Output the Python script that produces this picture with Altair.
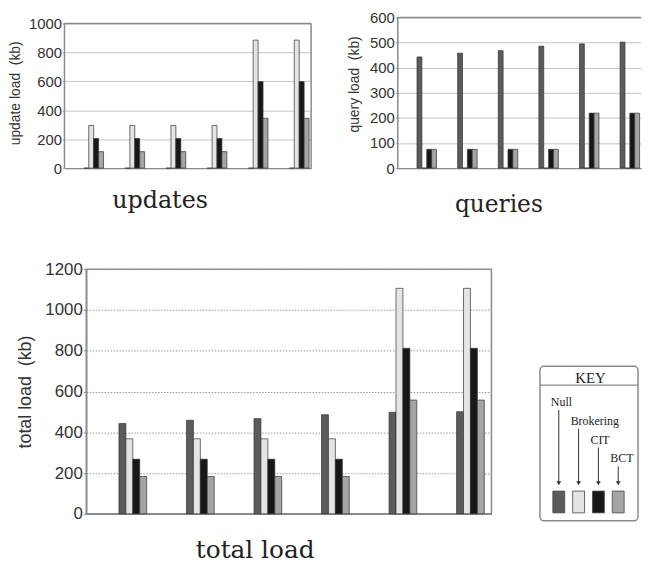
import altair as alt
import pandas as pd

# ---------------- data ----------------
series = ["Null", "Brokering", "CIT", "BCT"]
series_colors = ["#5b5b5b", "#e4e4e4", "#171717", "#a5a5a5"]
configs = ["c1", "c2", "c3", "c4", "c5", "c6"]

update_null = [0, 0, 0, 0, 0, 0]
update_brokering = [295, 295, 295, 295, 885, 885]
update_cit = [205, 205, 205, 205, 598, 598]
update_bct = [114, 114, 114, 114, 345, 345]

query_null = [443, 458, 468, 486, 495, 502]
query_brokering = [0, 0, 0, 0, 0, 0]
query_cit = [75, 75, 75, 75, 219, 219]
query_bct = [75, 75, 75, 75, 219, 219]

total_null = [443, 459, 467, 486, 498, 501]
total_brokering = [368, 368, 368, 368, 1106, 1106]
total_cit = [268, 268, 268, 268, 812, 812]
total_bct = [183, 183, 183, 183, 558, 558]

update_ticks = [0, 200, 400, 600, 800, 1000]
query_ticks = [0, 100, 200, 300, 400, 500, 600]
total_ticks = [0, 200, 400, 600, 800, 1000, 1200]

SANS = "Liberation Sans"
SERIF = "DejaVu Serif"
KEYFONT = "Liberation Serif"
TEXT = "#333333"
GRAY = "#8a8a8a"
NO_STROKE = alt.ViewBackground(stroke="transparent", strokeWidth=0)


def long_df(cols):
    rows = []
    for si, (s, vals) in enumerate(zip(series, cols)):
        for gi, (c, v) in enumerate(zip(configs, vals)):
            rows.append({"config": c, "gi": gi, "series": s, "si": si, "value": v})
    return pd.DataFrame(rows)


upd_df = long_df([update_null, update_brokering, update_cit, update_bct])
qry_df = long_df([query_null, query_brokering, query_cit, query_bct])
tot_df = long_df([total_null, total_brokering, total_cit, total_bct])

color_scale = alt.Scale(domain=series, range=series_colors)


def bars(df, ydom, ticks, ytitle, xtitle, lead, barw,
         label_size, ytitle_size, ytitle_pad, xtitle_size, xtitle_x, xtitle_y,
         grid_color, tick_size, grid_dash=None, ydomain_line=True, ytitle_y=None):
    # lead / barw are fractions of one configuration slot
    yax = dict(values=ticks, format="d", labelOverlap=False, title=ytitle,
               labelFont=SANS, labelFontSize=label_size,
               labelColor=TEXT, labelPadding=1, tickSize=tick_size, tickColor=GRAY,
               domain=ydomain_line, domainColor=GRAY, domainWidth=1.5,
               grid=True, gridColor=grid_color, gridWidth=1,
               titleFont=SANS, titleFontSize=ytitle_size, titleFontWeight="normal",
               titleColor=TEXT, titlePadding=ytitle_pad)
    if grid_dash is not None:
        yax["gridDash"] = grid_dash
    if ytitle_y is not None:
        yax["titleY"] = ytitle_y
    return alt.Chart(df).transform_calculate(
        x0=f"datum.gi + {lead} + datum.si * {barw}",
        x1=f"datum.gi + {lead} + (datum.si + 1) * {barw}",
        base="0",
    ).mark_rect(stroke="#333333", strokeWidth=0.7).encode(
        x=alt.X("x0:Q", scale=alt.Scale(domain=[0, len(configs)], nice=False, zero=False,
                                         padding=0),
                axis=alt.Axis(labels=False, ticks=False, grid=False, domain=True,
                              domainColor=GRAY, domainWidth=1.5, title=xtitle,
                              titleFont=SERIF, titleFontSize=xtitle_size,
                              titleFontWeight="normal", titleColor="#222222",
                              titleX=xtitle_x, titleY=xtitle_y,
                              titleAlign="center", titleBaseline="alphabetic")),
        x2="x1:Q",
        y=alt.Y("value:Q", scale=alt.Scale(domain=[0, ydom], nice=False, padding=0),
                axis=alt.Axis(**yax)),
        y2="base:Q",
        color=alt.Color("series:N", scale=color_scale, legend=None),
    )


# ---------------- updates ----------------
UW, UH = 249, 152
upd_bars = bars(upd_df, 1041, update_ticks, "update load\u00a0\u00a0(kb)", "updates",
                0.47, 0.12, 15, 14, 6, 24, 96, 40, "#c4c4c4", 2, ydomain_line=False)
frame_df = pd.DataFrame({"lo": [0], "hi": [1000]})
upd_top = alt.Chart(frame_df).mark_rule(color=GRAY, strokeWidth=1.5).encode(
    y=alt.Y("hi:Q", axis=None))
upd_right = alt.Chart(frame_df).mark_rule(color=GRAY, strokeWidth=1.5).encode(
    x=alt.value(UW), y=alt.Y("lo:Q", axis=None), y2="hi:Q")
upd_left = alt.Chart(frame_df).mark_rule(color=GRAY, strokeWidth=1.5).encode(
    x=alt.value(0), y=alt.Y("lo:Q", axis=None), y2="hi:Q")
updates = alt.layer(upd_bars, upd_top, upd_right, upd_left).resolve_axis(
    y="independent").properties(width=UW, height=UH, view=NO_STROKE)

# ---------------- queries ----------------
QW, QH = 246, 152
qry_bars = bars(qry_df, 600, query_ticks, "query load\u00a0\u00a0(kb)", "queries",
                0.485, 0.12, 15, 14, 8, 23.5, 102, 44, "#c4c4c4", 2, ytitle_y=67)
qframe_df = pd.DataFrame({"hi": [600]})
qry_top = alt.Chart(qframe_df).mark_rule(color=GRAY, strokeWidth=1.5).encode(
    y=alt.Y("hi:Q", axis=None))
queries = alt.layer(qry_bars, qry_top).resolve_axis(y="independent").properties(
    width=QW, height=QH, view=NO_STROKE)

# ---------------- total ----------------
TW, TH = 409, 247
total = bars(tot_df, 1200, total_ticks, "total load\u00a0\u00a0(kb)", "total load",
             0.484, 0.1027, 17, 18, 10, 25, 170, 44, "#9a9a9a", 3,
             grid_dash=[1.5, 1.5]).properties(
    width=TW, height=TH,
    view=alt.ViewBackground(stroke=GRAY, strokeWidth=1.5, strokeOpacity=1))

# ---------------- key ----------------
KOFF = 28
KW, KH = 100 + KOFF, 256
kx = alt.Scale(domain=[0, KW], nice=False, zero=False)
ky = alt.Scale(domain=[0, KH], nice=False, zero=False, reverse=True)

key_df = pd.DataFrame({"series": series, "i": list(range(len(series)))})
key_df["cx"] = KOFF + 19 + 20 * key_df["i"]
key_df["lx"] = key_df["cx"] - 8
key_df["ly"] = 134 + 19 * key_df["i"]
key_df["a0"] = key_df["ly"] + 8
key_df["a1"] = 216
key_df["sx0"] = key_df["cx"] - 6
key_df["sx1"] = key_df["cx"] + 6
key_df["sy0"] = 224
key_df["sy1"] = 246

box_df = pd.DataFrame({"x": [KOFF], "x2": [KOFF + 99], "y": [98], "y2": [254],
                       "hy": [117], "tx": [KOFF + 51], "ty": [110], "t": ["KEY"]})

key_box = alt.Chart(box_df).mark_rect(fill="white", stroke=GRAY, strokeWidth=1.5,
                                      cornerRadius=4).encode(
    x=alt.X("x:Q", scale=kx, axis=None), x2="x2:Q",
    y=alt.Y("y:Q", scale=ky, axis=None), y2="y2:Q")
key_div = alt.Chart(box_df).mark_rule(color=GRAY, strokeWidth=1.2).encode(
    x=alt.X("x:Q", axis=None), x2="x2:Q", y=alt.Y("hy:Q", axis=None))
key_head = alt.Chart(box_df).mark_text(font=KEYFONT, fontSize=15, color="#222222",
                                       baseline="middle").encode(
    x=alt.X("tx:Q", axis=None), y=alt.Y("ty:Q", axis=None), text="t:N")
key_labels = alt.Chart(key_df).mark_text(font=KEYFONT, fontSize=12, color="#222222",
                                         align="left", baseline="middle").encode(
    x=alt.X("lx:Q", axis=None), y=alt.Y("ly:Q", axis=None), text="series:N")
key_arrows = alt.Chart(key_df).mark_rule(color="#333333", strokeWidth=1).encode(
    x=alt.X("cx:Q", axis=None), y=alt.Y("a0:Q", axis=None), y2="a1:Q")
key_heads = alt.Chart(key_df).mark_point(shape="triangle-down", filled=True,
                                         size=22, color="#333333", opacity=1).encode(
    x=alt.X("cx:Q", axis=None), y=alt.Y("a1:Q", axis=None))
key_sw = alt.Chart(key_df).mark_rect(stroke="#444444", strokeWidth=0.8).encode(
    x=alt.X("sx0:Q", axis=None), x2="sx1:Q", y=alt.Y("sy0:Q", axis=None), y2="sy1:Q",
    color=alt.Color("series:N", scale=color_scale, legend=None))
key = alt.layer(key_box, key_div, key_head, key_labels, key_arrows, key_heads,
                key_sw).properties(width=KW, height=KH, view=NO_STROKE)

# tiny invisible spacer that shifts the bottom row to the right
spacer = alt.Chart(pd.DataFrame({"s": [0]})).mark_point(opacity=0).encode(
    x=alt.value(0), y=alt.value(0)).properties(width=1, height=1, view=NO_STROKE)

# ---------------- layout ----------------
top = alt.hconcat(updates, queries, spacing=87, bounds="flush")
bottom = alt.hconcat(spacer, total, key, spacing=21, bounds="flush")
chart = alt.vconcat(top, bottom, spacing=43).properties(
    padding=0
).configure(background="white")

chart.save("out.html", embed_options={"renderer": "svg", "actions": False})
